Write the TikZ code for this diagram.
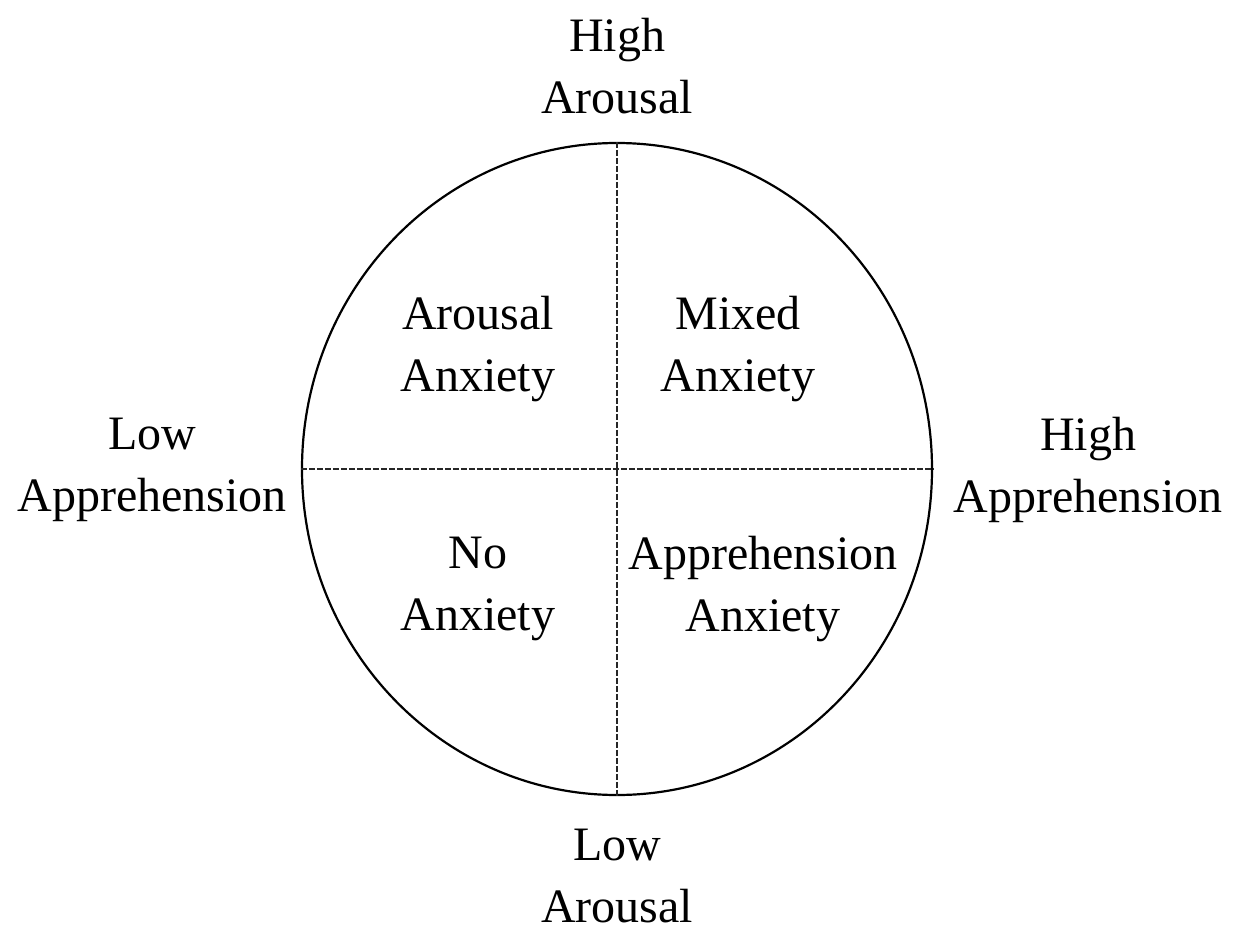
\documentclass[tikz,border=0pt]{standalone}
\usepackage{fontspec}
\setmainfont{Liberation Serif}
\usetikzlibrary{shapes.geometric}
\begin{document}
\begin{tikzpicture}[x=1pt,y=-1pt,
  lbl/.style={align=center,inner sep=0pt,font=\fontsize{48}{62}\selectfont},
  ring/.style={draw,ellipse,line width=2.2pt,inner sep=0pt,minimum width=630pt,minimum height=652pt},
  divider/.style={line width=1.4pt,draw=black!85,dash pattern=on 6pt off 2pt}]
\useasboundingbox[fill=white] (0,0) rectangle (1243,931);
% quadrant circle and its two axes
\node[ring] (c) at (617,469) {};
\draw[divider] (c.north) -- (c.south);
\draw[divider] (c.west) -- (c.east);
% axis ends
\node[lbl] (ha) at (617,66) {High\\Arousal};
\node[lbl] (la) at (617,876) {Low\\Arousal};
\node[lbl] (lp) at (152,470) {Low\\Apprehension};
\node[lbl] (hp) at (1088,470) {High\\Apprehension};
% quadrants
\node[lbl] (q1) at (478,349) {Arousal\\Anxiety};
\node[lbl] (q2) at (738,349) {Mixed\\Anxiety};
\node[lbl] (q3) at (478,589) {No\\Anxiety};
\node[lbl] (q4) at (763,589) {Apprehension\\Anxiety};
\end{tikzpicture}
\end{document}
